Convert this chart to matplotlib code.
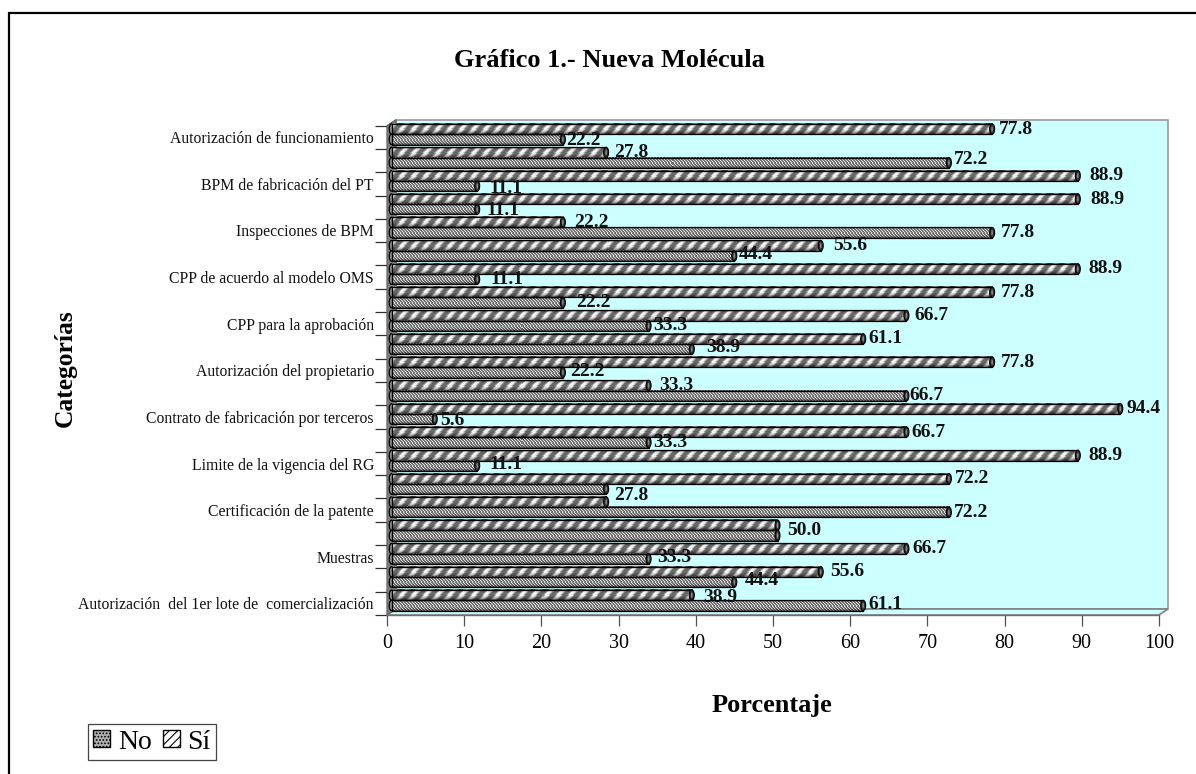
import numpy as np
import matplotlib
matplotlib.use("Agg")
import matplotlib.pyplot as plt
from matplotlib.patches import Polygon, Ellipse, Patch, FancyBboxPatch
from matplotlib.transforms import Affine2D

W, H = 1196, 774
plt.rcParams['font.family'] = ['Liberation Serif', 'DejaVu Serif']
plt.rcParams['hatch.linewidth'] = 0.8

title = "Gráfico 1.- Nueva Molécula"
xlabel = "Porcentaje"
ylabel = "Categorías"
series_names = ["No", "Sí"]
cat_rows = [0, 2, 4, 6, 8, 10, 12, 14, 16, 18, 20]
cat_names = ["Autorización de funcionamiento", "BPM de fabricación del PT", "Inspecciones de BPM",
             "CPP de acuerdo al modelo OMS", "CPP para la aprobación", "Autorización del propietario",
             "Contrato de fabricación por terceros", "Limite de la vigencia del RG",
             "Certificación de la patente", "Muestras", "Autorización  del 1er lote de  comercialización"]
si = [77.8, 27.8, 88.9, 88.9, 22.2, 55.6, 88.9, 77.8, 66.7, 61.1, 77.8,
      33.3, 94.4, 66.7, 88.9, 72.2, 27.8, 50.0, 66.7, 55.6, 38.9]
no = [22.2, 72.2, 11.1, 11.1, 77.8, 44.4, 11.1, 22.2, 33.3, 38.9, 22.2,
      66.7, 5.6, 33.3, 11.1, 27.8, 72.2, 50.0, 33.3, 44.4, 61.1]
# pixel offsets of the data labels from the bar ends (hand-placed in the original)
si_dx = [24, 25, 29, 30, 28, 30, 28, 26, 25, 22, 26, 28, 23, 22, 28, 23, None, None, 23, 27, 28]
si_dy = [0, 0, 0, 0, 0, 0, 0, 0, 0, 0, 0, 0, 0, 0, 0, 0, 0, 0, 0, 0, 2]
no_dx = [20, 22, 29, 26, 26, 22, 30, 30, 22, 31, 24, 20, 18, 22, 29, 25, 22, 27, 26, 28, 22]
no_dy = [1, -3, 2, 1, 0, -1, 0, 0, 0, -2, -1, 0, 1, 0, -1, 7, 0, -5, -1, -2, -1]

LEFT, RIGHT, TOP, BOTTOM = 387, 1159, 125.6, 615
DX, DY = 9, 6

fig = plt.figure(figsize=(W / 100, H / 100), dpi=100, facecolor='white')
bg = fig.add_axes([0, 0, 1, 1], zorder=0)
bg.set_xlim(0, W); bg.set_ylim(H, 0); bg.axis('off')
bg.plot([8.5, 8.5, W], [H, 12.5, 12.5], color='black', lw=1.6, solid_joinstyle='miter')
bg.add_patch(Polygon([(LEFT + DX, TOP - DY), (RIGHT + DX, TOP - DY), (RIGHT + DX, BOTTOM - DY), (LEFT + DX, BOTTOM - DY)],
                     fc='#CCFFFF', ec='#999999', lw=1.2))
bg.add_patch(Polygon([(LEFT, BOTTOM), (RIGHT, BOTTOM), (RIGHT + DX, BOTTOM - DY), (LEFT + DX, BOTTOM - DY)],
                     fc='#CCFFFF', ec='#808080', lw=1.2))
bg.add_patch(Polygon([(LEFT, TOP), (LEFT + DX, TOP - DY), (LEFT + DX, BOTTOM - DY), (LEFT, BOTTOM)],
                     fc='#808080', ec='#606060', lw=0.8))

ax = fig.add_axes([LEFT / W, 1 - BOTTOM / H, (RIGHT - LEFT) / W, (BOTTOM - TOP) / H], zorder=1)
ax.patch.set_alpha(0)
ax.set_xlim(0, 100)
n = len(si)
ax.set_ylim(n, 0)
for s in ('top', 'right'):
    ax.spines[s].set_visible(False)
for s in ('left', 'bottom'):
    ax.spines[s].set_color('#707070')
    ax.spines[s].set_linewidth(1.0)
ax.set_xticks(np.arange(0, 101, 10))
ax.tick_params(axis='x', length=8, width=0.9, color='#505050', labelsize=14.5, pad=6)
ax.set_yticks(np.arange(0, n + 1))
ax.set_yticklabels([])
ax.tick_params(axis='y', which='major', length=8.6, width=0.9, color='#303030')
ax.set_yticks([r + 0.5 for r in cat_rows], minor=True)
ax.set_yticklabels(cat_names, minor=True, fontsize=11.3, color='#111111')
ax.tick_params(axis='y', which='minor', length=0, pad=9.4)

ax.set_title(title, fontsize=19, fontweight='bold', x=(609 - LEFT) / (RIGHT - LEFT), y=1, pad=42)
ax.set_xlabel(xlabel, fontsize=19, fontweight='bold')
ax.xaxis.set_label_coords((772 - LEFT) / (RIGHT - LEFT), -(694 - BOTTOM) / (BOTTOM - TOP))
ax.set_ylabel(ylabel, fontsize=18.4, fontweight='bold')
ax.yaxis.set_label_coords((77 - LEFT) / (RIGHT - LEFT), 0.504)

shift = Affine2D().translate(4.5, 3)
tr = ax.transData + shift
px_x = (RIGHT - LEFT) / 100
px_y = (BOTTOM - TOP) / n
BAR_H = 10.3 / px_y
STRIPE = np.array([0.75, 1, 1, 1, 0.9, 0.7, 0.5, 0.42, 0.42, 0.42, 0.42, 0.55])


def stripe_tex(w, h):
    ys, xs = np.mgrid[0:h, 0:w]
    base = STRIPE[(xs + ys) % 12]
    prof = np.interp(np.linspace(0, 1, h), [0, .2, .5, .75, 1], [0.5, 0.9, 1.0, 0.8, 0.45])
    return np.clip(base * prof[:, None], 0, 1)


def dots_tex(w, h):
    ys, xs = np.mgrid[0:h, 0:w]
    base = np.array([0.9, 0.5, 0.42])[(xs + 2 * ys) % 3]
    prof = np.interp(np.linspace(0, 1, h), [0, .2, .5, .8, 1], [0.55, 0.95, 1.0, 0.9, 0.5])
    return np.clip(base * prof[:, None], 0, 1)


def draw(vals, offs, texture, dxs, dys):
    ypos = np.arange(n) + 0.5 + offs * BAR_H
    bars = ax.barh(ypos, vals, height=BAR_H, color='#888888', edgecolor='none', zorder=3)
    for bar, v, y in zip(bars, vals, ypos):
        bar.set_transform(tr); bar.set_clip_on(False)
        ax.add_patch(Ellipse((0, y), 4.5 / px_x, BAR_H, fc='#888888', ec='black', lw=0.9, zorder=3.05, transform=tr, clip_on=False))
        w, h = max(2, int(round(v * px_x))), 10
        im = ax.imshow(texture(w, h), extent=(0, v, y + BAR_H / 2, y - BAR_H / 2), cmap='gray', vmin=0, vmax=1,
                       aspect='auto', interpolation='nearest', zorder=3.1)
        im.set_transform(tr); im.set_clip_on(False)
        ax.add_patch(FancyBboxPatch((0, y - BAR_H / 2), v, BAR_H, boxstyle='square,pad=0', fc='none', ec='black', lw=0.9,
                                    zorder=3.2, transform=tr, clip_on=False))
        ax.add_patch(Ellipse((v, y), 5 / px_x, BAR_H, fc='#303030', ec='black', lw=0.8, zorder=3.3, transform=tr, clip_on=False))
        ax.add_patch(Ellipse((v, y), 1.6 / px_x, BAR_H * 0.55, fc='#8a8a8a', ec='none', zorder=3.4, transform=tr, clip_on=False))
    for v, y, dx, dy in zip(vals, ypos, dxs, dys):
        if dx is None:
            continue
        ax.annotate(f"{v:.1f}", xy=(v, y), xycoords=tr, xytext=(dx * 0.72, -dy * 0.72), textcoords='offset points',
                    ha='center', va='center', fontsize=14, fontweight='bold', color='#111111', zorder=5,
                    annotation_clip=False)


draw(si, -0.5, stripe_tex, si_dx, si_dy)
draw(no, 0.5, dots_tex, no_dx, no_dy)
ax.set_xlim(0, 100); ax.set_ylim(n, 0)

handles = [Patch(facecolor='#b0b0b0', edgecolor='black', hatch='.....', label=series_names[0]),
           Patch(facecolor='white', edgecolor='black', hatch='////', label=series_names[1])]
leg = fig.legend(handles=handles, loc='upper left', bbox_to_anchor=(87.5 / W, 1 - 724 / H), ncol=2,
                 frameon=True, fancybox=False, edgecolor='#444444', framealpha=1, fontsize=20,
                 borderpad=0.2, handlelength=0.61, handleheight=0.58, handletextpad=0.28, columnspacing=0.4,
                 borderaxespad=0)
leg.get_frame().set_linewidth(0.9)
fig.savefig('out.png', dpi=100)
